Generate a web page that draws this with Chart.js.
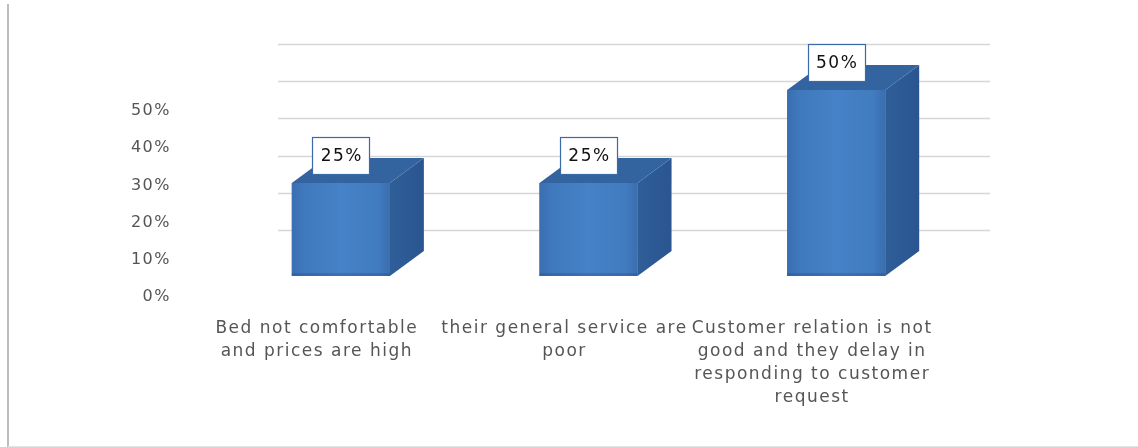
<!DOCTYPE html>
<html>
<head>
<meta charset="utf-8">
<script src="https://cdn.jsdelivr.net/npm/chart.js@4.4.1/dist/chart.umd.min.js"></script>
<style>
  html, body { margin: 0; padding: 0; background: #fff; }
  #wrap { width: 1138px; height: 447px; position: relative; }
</style>
</head>
<body>
<div id="wrap"><canvas id="complaints"></canvas></div>
<script>
// complaint categories (multi-line labels) and their share of answers
const categories = [
    ['Bed not comfortable', 'and prices are high'],
    ['their general service are', 'poor'],
    ['Customer relation is not', 'good and they delay in', 'responding to customer', 'request']
];
const shares = [0.25, 0.25, 0.50];
const axisMin = 0;
const axisMax = 0.5;
const axisStep = 0.1;

const FONT = '"DejaVu Sans", sans-serif';
const TEXT_GREY = '#555555';
const SPACING = '1.5px';

// fake 3D: how far the box depth goes and where the back wall grid sits
const DEPTH_X = 34;
const DEPTH_Y = 25;
const WALL_SHIFT = 46;

const pct = v => Math.round(v * 100) + '%';

const boxes3d = {
    id: 'boxes3d',
    beforeUpdate(chart) {
        chart.ctx.letterSpacing = SPACING;
    },
    beforeDraw(chart) {
        chart.ctx.letterSpacing = SPACING;
    },
    beforeDatasetsDraw(chart) {
        const { ctx } = chart;
        const y = chart.scales.y;
        ctx.save();
        // back wall gridlines
        ctx.strokeStyle = '#d6d6d6';
        ctx.lineWidth = 1.6;
        for (let v = axisMin; v <= axisMax + 1e-9; v += axisStep) {
            const py = Math.round(y.getPixelForValue(v) - WALL_SHIFT) + 0.5;
            ctx.beginPath();
            ctx.moveTo(278, py);
            ctx.lineTo(990, py);
            ctx.stroke();
        }
        // outer frame
        ctx.strokeStyle = '#bdbdbd';
        ctx.lineWidth = 2;
        ctx.beginPath();
        ctx.moveTo(8, 4);
        ctx.lineTo(8, 447);
        ctx.stroke();
        ctx.strokeStyle = '#e4e4e4';
        ctx.lineWidth = 1;
        ctx.beginPath();
        ctx.moveTo(8, 446.5);
        ctx.lineTo(1138, 446.5);
        ctx.stroke();
        ctx.restore();
    },
    afterDatasetsDraw(chart) {
        const { ctx } = chart;
        const meta = chart.getDatasetMeta(0);
        ctx.save();
        meta.data.forEach((bar, i) => {
            const left = bar.x - bar.width / 2;
            const right = bar.x + bar.width / 2;
            const top = bar.y;
            const bottom = bar.base;

            // front face
            const g = ctx.createLinearGradient(left, 0, right, 0);
            g.addColorStop(0, '#3a6fb0');
            g.addColorStop(0.12, '#3f78bd');
            g.addColorStop(0.5, '#4682c7');
            g.addColorStop(0.88, '#417bc0');
            g.addColorStop(1, '#3a6eae');
            ctx.fillStyle = g;
            ctx.fillRect(left, top, bar.width, bottom - top);
            ctx.fillStyle = 'rgba(30, 60, 110, 0.25)';
            ctx.fillRect(left, bottom - 3, bar.width, 3);

            // right side
            const s = ctx.createLinearGradient(right, 0, right + DEPTH_X, 0);
            s.addColorStop(0, '#2f5e98');
            s.addColorStop(1, '#2a5590');
            ctx.fillStyle = s;
            ctx.beginPath();
            ctx.moveTo(right, top);
            ctx.lineTo(right + DEPTH_X, top - DEPTH_Y);
            ctx.lineTo(right + DEPTH_X, bottom - DEPTH_Y);
            ctx.lineTo(right, bottom);
            ctx.closePath();
            ctx.fill();

            // top
            ctx.fillStyle = '#3464a0';
            ctx.beginPath();
            ctx.moveTo(left, top);
            ctx.lineTo(left + DEPTH_X, top - DEPTH_Y);
            ctx.lineTo(right + DEPTH_X, top - DEPTH_Y);
            ctx.lineTo(right, top);
            ctx.closePath();
            ctx.fill();

            // value box
            const bw = 57, bh = 37;
            const bx = Math.round(bar.x - bw / 2) + 0.5;
            const by = Math.round(top - 27.5 - bh / 2) + 0.5;
            ctx.fillStyle = '#ffffff';
            ctx.fillRect(bx, by, bw, bh);
            ctx.strokeStyle = '#3a6aa8';
            ctx.lineWidth = 1.2;
            ctx.strokeRect(bx, by, bw, bh);
            ctx.fillStyle = '#111111';
            ctx.font = '17px ' + FONT;
            ctx.textAlign = 'center';
            ctx.textBaseline = 'middle';
            ctx.fillText(pct(shares[i]), bar.x + 1, by + bh / 2 + 1);
        });
        ctx.restore();
    }
};

new Chart(document.getElementById('complaints'), {
    type: 'bar',
    data: {
        labels: categories,
        datasets: [{
            data: shares,
            backgroundColor: '#4280c5',
            borderWidth: 0,
            categoryPercentage: 1,
            barPercentage: 0.396
        }]
    },
    options: {
        responsive: true,
        maintainAspectRatio: false,
        animation: false,
        layout: {
            padding: { left: 0, right: 178, top: 90, bottom: 0 }
        },
        plugins: {
            legend: { display: false },
            tooltip: { enabled: false }
        },
        scales: {
            x: {
                grid: { display: false, drawTicks: false },
                border: { display: false },
                ticks: {
                    autoSkip: false,
                    maxRotation: 0,
                    labelOffset: -24,
                    padding: 41,
                    color: TEXT_GREY,
                    font: { family: FONT, size: 17, lineHeight: 1.35 }
                },
                afterFit(scale) {
                    scale.height = 171;
                }
            },
            y: {
                min: axisMin,
                max: axisMax,
                grid: { display: false, drawTicks: false },
                border: { display: false },
                ticks: {
                    stepSize: axisStep,
                    labelOffset: 21,
                    padding: 46,
                    color: TEXT_GREY,
                    font: { family: FONT, size: 16 },
                    callback: v => pct(v)
                },
                afterFit(scale) {
                    scale.width = 217;
                }
            }
        }
    },
    plugins: [boxes3d]
});
</script>
</body>
</html>
